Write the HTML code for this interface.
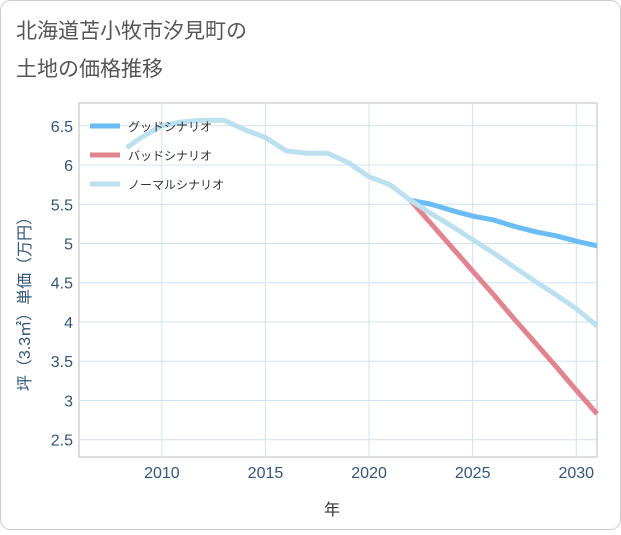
<!DOCTYPE html>
<html><head><meta charset="utf-8"><style>
body{margin:0;background:#fff;}
#c{width:621px;height:530px;position:relative;font-family:"Liberation Sans","Noto Sans CJK JP",sans-serif;}
</style></head><body>
<div id="c">
<svg id="s" width="621" height="530" xmlns="http://www.w3.org/2000/svg">
<rect x="0.5" y="0.5" width="620" height="529" rx="10" fill="#fff" stroke="#ccc"/>
<text x="16" y="38" font-size="21" fill="#555">北海道苫小牧市汐見町の</text>
<text x="16" y="76" font-size="21" fill="#555">土地の価格推移</text>
<g id="grid"></g><g id="series"></g><g id="axes"></g>
<text x="332" y="515" font-size="16" fill="#333" text-anchor="middle">年</text>
<text transform="translate(30,300) rotate(-90)" font-size="16" fill="#335577" text-anchor="middle">坪（3.3㎡）単価（万円）</text>
<g>
<line x1="90" y1="126" x2="120" y2="126" stroke="#6bbcf5" stroke-width="5"/>
<text x="128" y="131" font-size="12" fill="#333">グッドシナリオ</text>
<line x1="90" y1="155" x2="120" y2="155" stroke="#e0848f" stroke-width="5"/>
<text x="128" y="160" font-size="12" fill="#333">バッドシナリオ</text>
<line x1="90" y1="184" x2="120" y2="184" stroke="#bde0ee" stroke-width="5"/>
<text x="128" y="189" font-size="12" fill="#333">ノーマルシナリオ</text>
</g>
</svg></div>
<script>
const xTicks=[2010,2015,2020,2025,2030];
const yTicks=[2.5,3,3.5,4,4.5,5,5.5,6,6.5];
const normalYears=[2008.3,2009,2010,2011,2012,2013,2014,2015,2016,2017,2018,2019,2020,2021,2022,2023,2024,2025,2026,2027,2028,2029,2030,2031];
const normalVals=[6.22,6.35,6.5,6.55,6.57,6.57,6.45,6.35,6.18,6.15,6.15,6.03,5.85,5.75,5.55,5.38,5.22,5.05,4.88,4.7,4.52,4.35,4.17,3.95];
const goodYears=[2022,2023,2024,2025,2026,2027,2028,2029,2030,2031];
const goodVals=[5.55,5.5,5.42,5.35,5.3,5.22,5.15,5.1,5.03,4.97];
const badYears=[2022,2023,2024,2025,2026,2027,2028,2029,2030,2031];
const badVals=[5.55,5.25,4.95,4.65,4.35,4.04,3.74,3.44,3.13,2.83];
const L=79,R=597,T=103,B=457,x0=2006,x1=2031,y0=2.28,y1=6.79;
const X=v=>L+(v-x0)/(x1-x0)*(R-L);
const Y=v=>B-(v-y0)/(y1-y0)*(B-T);
const NS="http://www.w3.org/2000/svg";
function mk(t,a,p){const e=document.createElementNS(NS,t);for(const k in a)e.setAttribute(k,a[k]);p.appendChild(e);return e;}
const g=document.getElementById('grid'),ax=document.getElementById('axes'),se=document.getElementById('series');
mk('rect',{x:L,y:T,width:R-L,height:B-T,fill:'none',stroke:'#bbb'},g);
xTicks.forEach(t=>{const l=mk('line',{x1:X(t),x2:X(t),y1:T,y2:B,stroke:'#cfe3f2'},g);

const tx=mk('text',{x:X(t),y:478,'font-size':16,fill:'#335577','text-anchor':'middle'},ax);tx.textContent=t;
});
yTicks.forEach(t=>{const l=mk('line',{x1:L,x2:R,y1:Y(t),y2:Y(t),stroke:'#cfe3f2'},g);

const tx=mk('text',{x:73,y:Y(t)+6,'font-size':16,fill:'#335577','text-anchor':'end'},ax);tx.textContent=t;
});
function line(ys,vs,c,n){const p=mk('polyline',{points:ys.map((y,i)=>X(y)+','+Y(vs[i])).join(' '),fill:'none',stroke:c,'stroke-width':5,'stroke-linejoin':'round'},se);
}
line(goodYears,goodVals,'#6bbcf5','good-scenario-line');
line(badYears,badVals,'#e0848f','bad-scenario-line');
line(normalYears,normalVals,'#bde0ee','normal-scenario-line');
</script></body></html>
